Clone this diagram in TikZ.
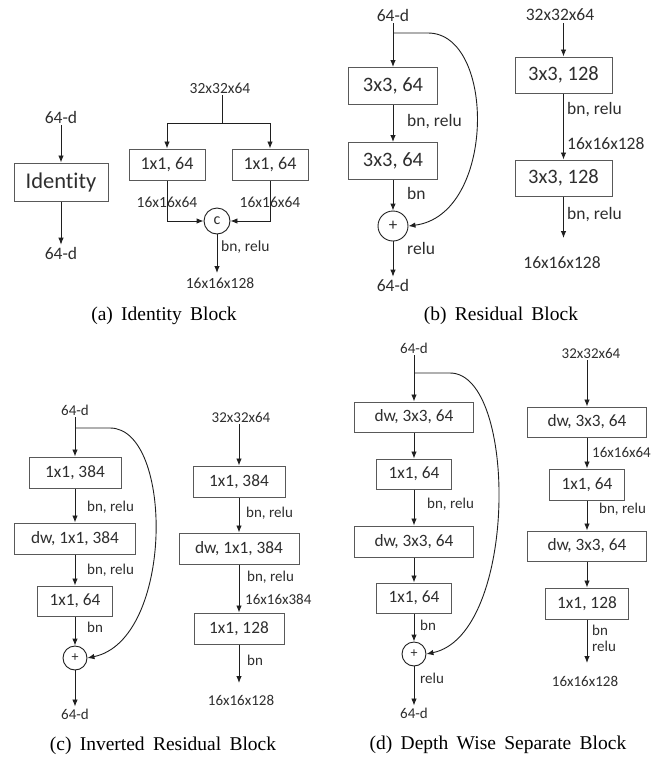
\documentclass[tikz,border=0pt]{standalone}
\usepackage{fontspec}
\setmainfont[Ligatures=NoCommon]{Carlito}
\newfontfamily\capfont[WordSpace=1.7]{Liberation Serif}
\usetikzlibrary{arrows.meta}
\definecolor{txtc}{gray}{0.18}
\definecolor{boxc}{gray}{0.35}
\definecolor{linec}{gray}{0.12}
\newcommand\fsz[1]{\fontsize{#1}{#1}\selectfont}
\tikzset{
  box/.style={draw=boxc, line width=1pt, inner sep=0pt, text=txtc},
  circ/.style={circle, draw=linec, line width=0.9pt, inner sep=0pt, text=txtc},
  arr/.style={-{Latex[length=7pt,width=5.5pt]}, line width=0.9pt, draw=linec},
  plain/.style={line width=0.9pt, draw=linec},
  ctxt/.style={text=txtc, inner sep=2pt},
  ltxt/.style={text=txtc, inner sep=0pt, anchor=west},
  captxt/.style={font=\capfont\fsz{19.5}, text=black, inner sep=0pt},
}
\begin{document}
\begin{tikzpicture}[x=1pt,y=-1pt]
\useasboundingbox (0,0) rectangle (670,764);
% ---------------- (a) ----------------
\node[ctxt, font=\fsz{17.5}] (ain) at (61,117) {64-d};
\node[box, minimum width=94pt, minimum height=38pt, font=\fsz{22.5}] (aid) at (61,182) {Identity};
\node[ctxt, font=\fsz{17.5}] (aout) at (61,253) {64-d};
\draw[arr] (ain) -- (aid);
\draw[arr] (aid) -- (aout);

\node[ctxt, font=\fsz{15.5}] (atop) at (220,88) {32x32x64};
\coordinate (abr) at (222,123);
\node[box, minimum width=76pt, minimum height=31pt, font=\fsz{18}] (a1) at (167,164.5) {1x1, 64};
\node[box, minimum width=76pt, minimum height=31pt, font=\fsz{18}] (a2) at (270,164.5) {1x1, 64};
\node[circ, minimum size=26pt, font=\fsz{16}] (ac) at (217,221) {c};
\coordinate (aend) at (217,273);
\draw[plain] (atop.south -| abr) -- (abr);
\draw[arr] (abr) -| (a1.north);
\draw[arr] (abr) -| (a2.north);
\draw[arr] (a1.south) |- (ac.west);
\draw[arr] (a2.south) |- (ac.east);
\draw[arr] (ac) -- (aend);
\node[ctxt, font=\fsz{15.5}] at (167,202) {16x16x64};
\node[ctxt, font=\fsz{15.5}] at (270,202) {16x16x64};
\node[ltxt, font=\fsz{15.5}] at (221,247) {bn, relu};
\node[ctxt, font=\fsz{15.5}] (aout2) at (220,283) {16x16x128};
\node[captxt] (capa) at (164,316) {(a) Identity Block};

% ---------------- (b) ----------------
\node[ctxt, font=\fsz{17.5}] (bin) at (393,15) {64-d};
\node[box, minimum width=89pt, minimum height=37pt, font=\fsz{20.5}] (b1) at (393,86) {3x3, 64};
\node[box, minimum width=89pt, minimum height=37pt, font=\fsz{20.5}] (b2) at (393,161) {3x3, 64};
\node[circ, minimum size=30pt, font=\fsz{17}] (bp) at (393,226) {+};
\node[ctxt, font=\fsz{17.5}] (bout) at (393,285) {64-d};
\coordinate (bbr) at (393,33);
\draw[arr] (bin) -- (b1);
\draw[arr] (b1) -- (b2);
\draw[arr] (b2) -- (bp);
\draw[arr] (bp) -- (bout);
\draw[arr] (bbr) -- (428,33) .. controls (496,33) and (496,215) .. (bp.east);
\node[ltxt, font=\fsz{17.5}] at (407,122) {bn, relu};
\node[ltxt, font=\fsz{17.5}] at (407,193) {bn};
\node[ltxt, font=\fsz{17.5}] at (407,248) {relu};

\node[ctxt, font=\fsz{17.5}] (btop) at (560,15) {32x32x64};
\node[box, minimum width=97pt, minimum height=36pt, font=\fsz{20.5}] (b3) at (563.5,75) {3x3, 128};
\node[box, minimum width=97pt, minimum height=36pt, font=\fsz{20.5}] (b4) at (563.5,178) {3x3, 128};
\coordinate (bend) at (563.5,238);
\draw[arr] (btop.south -| b3.north) -- (b3.north);
\draw[arr] (b3) -- (b4);
\draw[arr] (b4) -- (bend);
\node[ltxt, font=\fsz{17.5}] at (567,110) {bn, relu};
\node[ltxt, font=\fsz{17.5}] at (567,144) {16x16x128};
\node[ltxt, font=\fsz{17.5}] at (567,215) {bn, relu};
\node[ctxt, font=\fsz{17.5}] (bout2) at (562,263) {16x16x128};
\node[captxt] (capb) at (501,316) {(b) Residual Block};

% ---------------- (c) ----------------
\node[ctxt, font=\fsz{15}] (cin) at (75,410) {64-d};
\node[box, minimum width=92pt, minimum height=31pt, font=\fsz{17.3}] (c1) at (75,472.5) {1x1, 384};
\node[box, minimum width=121pt, minimum height=31pt, font=\fsz{17.3}] (c2) at (75,538.5) {dw, 1x1, 384};
\node[box, minimum width=75pt, minimum height=30pt, font=\fsz{17.3}] (c3) at (75,601) {1x1, 64};
\node[circ, minimum size=24pt, font=\fsz{14}] (cp) at (75,658) {+};
\node[ctxt, font=\fsz{15}] (cout) at (75,714) {64-d};
\coordinate (cbr) at (75,428);
\draw[arr] (cin) -- (c1);
\draw[arr] (c1) -- (c2);
\draw[arr] (c2) -- (c3);
\draw[arr] (c3) -- (cp);
\draw[arr] (cp) -- (cout);
\draw[arr] (cbr) -- (110,428) .. controls (174,428) and (174,640) .. (cp.east);
\node[ltxt, font=\fsz{15}] at (87,507) {bn, relu};
\node[ltxt, font=\fsz{15}] at (87,570) {bn, relu};
\node[ltxt, font=\fsz{15}] at (87,627) {bn};

\node[ctxt, font=\fsz{15}] (ctop) at (241,417) {32x32x64};
\node[box, minimum width=92pt, minimum height=31pt, font=\fsz{17.3}] (c4) at (239,481.5) {1x1, 384};
\node[box, minimum width=120pt, minimum height=31pt, font=\fsz{17.3}] (c5) at (239,548.5) {dw, 1x1, 384};
\node[box, minimum width=90pt, minimum height=31pt, font=\fsz{17.3}] (c6) at (239,628.5) {1x1, 128};
\coordinate (cend) at (239,683);
\draw[arr] (ctop.south -| c4.north) -- (c4.north);
\draw[arr] (c4) -- (c5);
\draw[arr] (c5) -- (c6);
\draw[arr] (c6) -- (cend);
\node[ltxt, font=\fsz{15}] at (246,513) {bn, relu};
\node[ltxt, font=\fsz{15}] at (247,577) {bn, relu};
\node[ltxt, font=\fsz{15}] at (245,599) {16x16x384};
\node[ltxt, font=\fsz{15}] at (247,660) {bn};
\node[ctxt, font=\fsz{15}] (cout2) at (241,700) {16x16x128};
\node[captxt] (capc) at (163,746) {(c) Inverted Residual Block};

% ---------------- (d) ----------------
\node[ctxt, font=\fsz{15}] (din) at (414,348) {64-d};
\node[box, minimum width=119pt, minimum height=30pt, font=\fsz{17.3}] (d1) at (414,417) {dw, 3x3, 64};
\node[box, minimum width=75pt, minimum height=30pt, font=\fsz{17.3}] (d2) at (414,474) {1x1, 64};
\node[box, minimum width=119pt, minimum height=31pt, font=\fsz{17.3}] (d3) at (414,541.5) {dw, 3x3, 64};
\node[box, minimum width=75pt, minimum height=30pt, font=\fsz{17.3}] (d4) at (414,598) {1x1, 64};
\node[circ, minimum size=24pt, font=\fsz{14}] (dp) at (414,654) {+};
\node[ctxt, font=\fsz{15}] (dout) at (414,713) {64-d};
\coordinate (dbr) at (414,373);
\draw[arr] (din) -- (d1);
\draw[arr] (d1) -- (d2);
\draw[arr] (d2) -- (d3);
\draw[arr] (d3) -- (d4);
\draw[arr] (d4) -- (dp);
\draw[arr] (dp) -- (dout);
\draw[arr] (dbr) -- (450,373) .. controls (518,373) and (518,635) .. (dp.east);
\node[ltxt, font=\fsz{15}] at (427,504) {bn, relu};
\node[ltxt, font=\fsz{15}] at (420,625) {bn};
\node[ltxt, font=\fsz{15}] at (420,678) {relu};

\node[ctxt, font=\fsz{15}] (dtop) at (591,353) {32x32x64};
\node[box, minimum width=119pt, minimum height=30pt, font=\fsz{17.3}] (d5) at (587,422) {dw, 3x3, 64};
\node[box, minimum width=75pt, minimum height=31pt, font=\fsz{17.3}] (d6) at (587,484.5) {1x1, 64};
\node[box, minimum width=119pt, minimum height=30pt, font=\fsz{17.3}] (d7) at (587,546) {dw, 3x3, 64};
\node[box, minimum width=83pt, minimum height=31pt, font=\fsz{17.3}] (d8) at (587,603.5) {1x1, 128};
\coordinate (dend) at (587,663);
\draw[arr] (dtop.south -| d5.north) -- (d5.north);
\draw[arr] (d5) -- (d6);
\draw[arr] (d6) -- (d7);
\draw[arr] (d7) -- (d8);
\draw[arr] (d8) -- (dend);
\node[ltxt, font=\fsz{15}] at (592,452) {16x16x64};
\node[ltxt, font=\fsz{15}] at (599,509) {bn, relu};
\node[ltxt, font=\fsz{15}] at (592,630) {bn};
\node[ltxt, font=\fsz{15}] at (592,646) {relu};
\node[ctxt, font=\fsz{15}] (dout2) at (585,681) {16x16x128};
\node[captxt] (capd) at (498,745) {(d) Depth Wise Separate Block};
\end{tikzpicture}
\end{document}
